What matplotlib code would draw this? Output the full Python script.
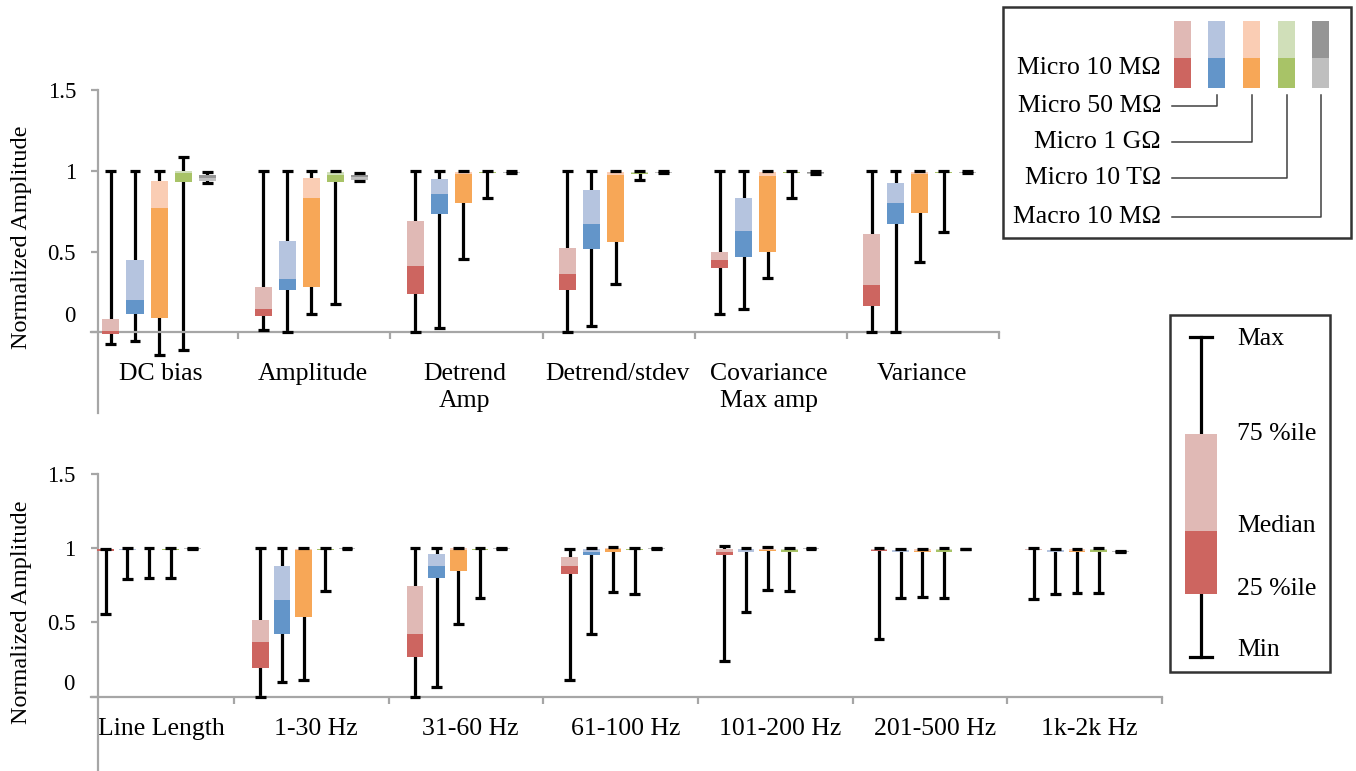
import numpy as np
import matplotlib.pyplot as plt
from matplotlib.patches import Rectangle
from matplotlib.transforms import ScaledTranslation

plt.rcParams['font.family'] = ['Liberation Serif', 'DejaVu Serif']

# Series (electrodes) and colours: dark = 25%ile..median, light = median..75%ile
series = ['Micro 10 MΩ', 'Micro 50 MΩ', 'Micro 1 GΩ', 'Micro 10 TΩ', 'Macro 10 MΩ']
dark = ['#CD6560', '#6395C9', '#F7A757', '#A8C367', '#BFBFBF']
light = ['#E0B9B5', '#B5C4DF', '#FACDB4', '#D0DFB9', '#959595']

# Top panel: rows = series, cols = categories
top_cats = ['DC bias', 'Amplitude', 'Detrend\nAmp', 'Detrend/stdev', 'Covariance\nMax amp', 'Variance']
top_max = [[1.0, 1.0, 1.0, 1.0, 1.0, 1.0],
           [1.0, 1.0, 1.0, 1.0, 1.0, 1.0],
           [1.0, 1.0, 1.0, 1.0, 1.0, 1.0],
           [1.085, 1.0, 1.0, 1.0, 1.0, 1.0],
           [0.995, 0.985, 1.0, 1.0, 1.0, 1.0]]
top_q3 = [[0.085, 0.283, 0.69, 0.52, 0.50, 0.61],
          [0.45, 0.565, 0.95, 0.88, 0.83, 0.925],
          [0.935, 0.955, 0.995, 0.99, 0.99, 0.995],
          [1.0, 0.99, 0.995, 0.99, 0.995, 0.995],
          [0.975, 0.975, 0.995, 0.995, 0.99, 0.995]]
top_med = [[0.01, 0.144, 0.41, 0.36, 0.45, 0.29],
           [0.20, 0.33, 0.856, 0.67, 0.627, 0.80],
           [0.77, 0.83, 0.98, 0.975, 0.97, 0.98],
           [0.985, 0.975, 0.99, 0.985, 0.99, 0.99],
           [0.955, 0.96, 0.99, 0.99, 0.985, 0.99]]
top_q1 = [[-0.01, 0.10, 0.235, 0.26, 0.396, 0.16],
          [0.11, 0.26, 0.735, 0.517, 0.465, 0.67],
          [0.09, 0.28, 0.80, 0.56, 0.50, 0.74],
          [0.93, 0.93, 0.985, 0.98, 0.985, 0.985],
          [0.935, 0.94, 0.985, 0.985, 0.98, 0.985]]
top_min = [[-0.07, 0.017, 0.0, 0.0, 0.11, 0.0],
           [-0.057, 0.0, 0.027, 0.04, 0.144, 0.0],
           [-0.14, 0.115, 0.455, 0.30, 0.335, 0.435],
           [-0.11, 0.175, 0.83, 0.945, 0.83, 0.62],
           [0.925, 0.935, 0.985, 0.985, 0.98, 0.985]]

# Bottom panel
bot_cats = ['Line Length', '1-30 Hz', '31-60 Hz', '61-100 Hz', '101-200 Hz', '201-500 Hz', '1k-2k Hz']
bot_max = [[0.993, 1.0, 1.0, 0.993, 1.015, 0.997, 0.997],
           [1.0, 1.0, 1.0, 1.0, 1.0, 0.99, 0.99],
           [1.0, 1.0, 1.0, 1.005, 1.005, 0.99, 0.99],
           [1.0, 1.0, 1.0, 1.0, 1.0, 0.997, 0.997],
           [1.0, 1.0, 1.0, 1.0, 0.998, 0.995, 0.98]]
bot_q3 = [[0.992, 0.513, 0.747, 0.94, 0.993, 0.99, 0.99],
          [0.995, 0.88, 0.96, 0.99, 0.992, 0.985, 0.985],
          [0.995, 0.995, 1.0, 1.0, 0.99, 0.99, 0.99],
          [0.995, 0.995, 0.995, 0.995, 0.99, 0.99, 0.99],
          [1.0, 1.0, 1.0, 1.0, 0.998, 0.995, 0.98]]
bot_med = [[0.99, 0.364, 0.424, 0.875, 0.975, 0.985, 0.987],
           [0.987, 0.647, 0.875, 0.97, 0.975, 0.975, 0.975],
           [0.992, 0.985, 0.985, 0.993, 0.985, 0.98, 0.98],
           [0.99, 0.99, 0.99, 0.99, 0.985, 0.983, 0.983],
           [0.997, 0.997, 0.997, 0.997, 0.996, 0.992, 0.977]]
bot_q1 = [[0.982, 0.194, 0.268, 0.826, 0.953, 0.98, 0.985],
          [0.985, 0.42, 0.797, 0.953, 0.97, 0.97, 0.97],
          [0.99, 0.535, 0.843, 0.97, 0.98, 0.975, 0.975],
          [0.985, 0.985, 0.985, 0.985, 0.975, 0.975, 0.97],
          [0.995, 0.995, 0.995, 0.995, 0.993, 0.99, 0.975]]
bot_min = [[0.558, 0.0, 0.0, 0.11, 0.24, 0.386, 0.658],
           [0.79, 0.096, 0.063, 0.424, 0.571, 0.665, 0.687],
           [0.795, 0.11, 0.487, 0.703, 0.714, 0.67, 0.70],
           [0.80, 0.707, 0.665, 0.69, 0.707, 0.665, 0.697],
           [0.995, 0.995, 0.995, 0.995, 0.993, 0.99, 0.975]]

W, H = 1356, 771
fig = plt.figure(figsize=(W / 100, H / 100), dpi=100)
axis_grey = '#A6A6A6'


def draw_panel(ax, cats, mins, q1s, meds, q3s, maxs, step, offset, width, cap,
               spine_x, label_pad, label_shift, zero_lift, ylab_xy):
    n = len(cats)
    x = np.arange(n)
    for i in range(len(series)):
        xs = x + offset + (i - 2) * step
        ax.vlines(xs, mins[i], maxs[i], color='black', lw=2.3, zorder=2)
        ax.hlines(mins[i], xs - cap / 2, xs + cap / 2, color='black', lw=2.3, zorder=4)
        ax.hlines(maxs[i], xs - cap / 2, xs + cap / 2, color='black', lw=2.3, zorder=4)
        lo = np.array(meds[i]) - np.array(q1s[i])
        hi = np.array(q3s[i]) - np.array(meds[i])
        ax.bar(xs, lo, width, bottom=q1s[i], color=dark[i], zorder=3)
        ax.bar(xs, hi, width, bottom=meds[i], color=light[i], zorder=3)

    ax.set_xlim(-0.5, n - 0.5)
    ax.set_ylim(-0.5, 1.5)
    for s in ['top', 'right']:
        ax.spines[s].set_visible(False)
    ax.spines['left'].set_position(('data', spine_x))
    ax.spines['bottom'].set_position(('data', 0))
    ax.spines['bottom'].set_bounds(spine_x - 0.046, n - 0.5)
    for s in ['left', 'bottom']:
        ax.spines[s].set_color(axis_grey)
        ax.spines[s].set_linewidth(1.6)

    ax.set_yticks([0, 0.5, 1, 1.5], ['', '0.5', '1', '1.5'])
    ax.tick_params(axis='y', direction='out', length=5, width=1.6, color=axis_grey,
                   labelsize=16.5, pad=11)
    # the "0" label sits a bit above its tick
    ax.text(spine_x, 0, '0', ha='right', va='center', fontsize=16.5,
            transform=ax.transData + ScaledTranslation(-0.23, zero_lift, fig.dpi_scale_trans))

    ax.set_xticks(np.arange(n) + 0.5)
    ax.set_xticks(x + label_shift, cats, minor=True)
    ax.tick_params(axis='x', which='major', direction='out', length=5, width=1.6,
                   color=axis_grey, labelbottom=False)
    ax.tick_params(axis='x', which='minor', length=0, labelsize=18.5, pad=label_pad)
    for lab in ax.get_xticklabels(minor=True):
        lab.set_linespacing(1.3)

    ax.set_ylabel('Normalized Amplitude', fontsize=17.5)
    ax.yaxis.set_label_coords(*ylab_xy)


ax1 = fig.add_axes([86 / W, 1 - 413 / H, 913 / W, 323 / H])
draw_panel(ax1, top_cats, top_min, top_q1, top_med, top_q3, top_max,
           step=0.158, offset=-0.02, width=0.112, cap=0.072,
           spine_x=-0.42, label_pad=22, label_shift=-0.01, zero_lift=0.16,
           ylab_xy=(-0.059, 0.545))

ax2 = fig.add_axes([79.4 / W, 0, 1082.6 / W, 297.5 / H])
draw_panel(ax2, bot_cats, bot_min, bot_q1, bot_med, bot_q3, bot_max,
           step=0.14, offset=-0.05, width=0.108, cap=0.07,
           spine_x=-0.38, label_pad=15.5, label_shift=0.03, zero_lift=0.12,
           ylab_xy=(-0.044, 0.533))

# Legends drawn in pixel coordinates on an overlay
lax = fig.add_axes([0, 0, 1, 1])
lax.set_xlim(0, W)
lax.set_ylim(H, 0)
lax.axis('off')

# series legend
lax.add_patch(Rectangle((1003, 7), 348, 231, fill=False, ec='#333333', lw=1.8))
sw_x = [1182.5, 1216.5, 1251.5, 1286.5, 1320.5]
txt_y = [68, 106, 142, 178, 217]
for i, name in enumerate(series):
    lax.add_patch(Rectangle((sw_x[i] - 8.5, 21), 17, 37, color=light[i], lw=0))
    lax.add_patch(Rectangle((sw_x[i] - 8.5, 58), 17, 30, color=dark[i], lw=0))
    lax.text(1161, txt_y[i], name, ha='right', va='center', fontsize=18.5)
    if i > 0:
        lax.plot([1172, sw_x[i], sw_x[i]], [txt_y[i], txt_y[i], 95],
                 color='#404040', lw=1.1)

# box-plot key
lax.add_patch(Rectangle((1170, 315), 160, 357, fill=False, ec='#333333', lw=1.8))
lax.plot([1200.7, 1200.7], [337, 657], color='black', lw=2.3, zorder=2)
lax.plot([1190, 1212], [337, 337], color='black', lw=2.3)
lax.plot([1190, 1212], [657, 657], color='black', lw=2.3)
lax.add_patch(Rectangle((1185, 434), 32, 97, color=light[0], lw=0, zorder=3))
lax.add_patch(Rectangle((1185, 531), 32, 63, color=dark[0], lw=0, zorder=3))
for lbl, yy in zip(['Max', '75 %ile', 'Median', '25 %ile', 'Min'], [339, 434, 526, 589, 650]):
    lax.text(1237, yy, lbl, ha='left', va='center', fontsize=18.5)

plt.savefig('out.png', dpi=100)
